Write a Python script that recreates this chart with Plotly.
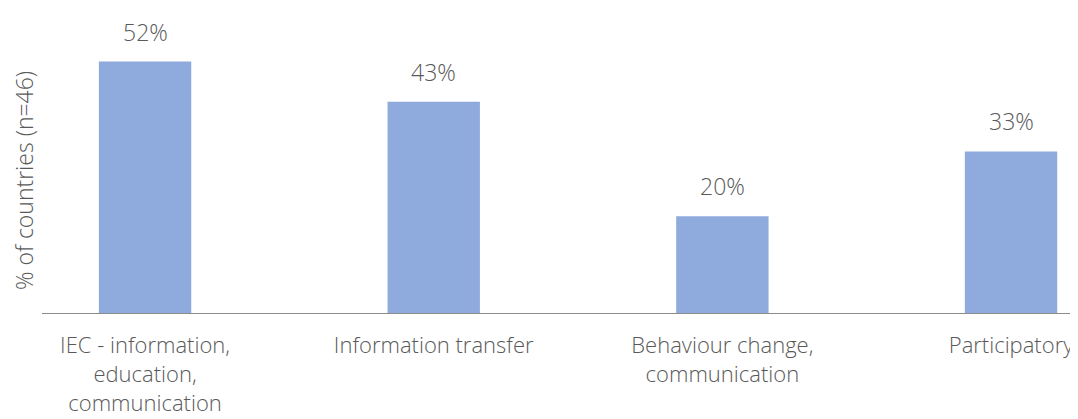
import plotly.graph_objects as go

categories = ["IEC - information,<br>education,<br>communication",
              "Information transfer",
              "Behaviour change,<br>communication",
              "Participatory"]
values = [52, 43.7, 20, 33.4]
value_labels = ["52%", "43%", "20%", "33%"]
y_title = "% of countries (n=46)"

# page has an 8px body margin; figure fills the rest of the window
W, H = 1070, 411
ml, mr, mt, mb = 34, 0, 2, 106
font_family = "Open Sans"
text_color = "#595959"
bar_color = "#8FAADC"

xpos = list(range(len(categories)))

fig = go.Figure()
fig.add_trace(go.Bar(
    x=xpos, y=values, width=0.32,
    marker=dict(color=bar_color, line=dict(width=0)),
    hoverinfo="skip",
))

for xi, v, lab in zip(xpos, values, value_labels):
    fig.add_annotation(x=xi, y=v, xref="x", yref="y", text=lab,
                       showarrow=False, yanchor="bottom", yshift=12,
                       font=dict(family=font_family, size=23, color=text_color, weight=300))

plot_w = W - ml - mr
plot_h = H - mt - mb
fig.add_annotation(xref="paper", yref="paper", x=-18 / plot_w,
                   y=(H - mb - 173) / plot_h, text=y_title, textangle=-90,
                   showarrow=False, xanchor="center", yanchor="middle",
                   font=dict(family=font_family, size=23, color=text_color, weight=300))

px_per_unit = 251.5 / 52
fig.update_layout(
    width=W, height=H,
    margin=dict(l=ml, r=mr, t=mt, b=mb, autoexpand=False),
    paper_bgcolor="white", plot_bgcolor="white",
    showlegend=False,
    font=dict(family=font_family, size=22, color=text_color, weight=300),
    xaxis=dict(
        tickmode="array", tickvals=xpos, ticktext=categories,
        range=[-0.357, 3.232], showgrid=False, zeroline=False,
        showline=True, linecolor="#8c8c8c", linewidth=1,
        ticks="outside", ticklen=13, tickcolor="rgba(0,0,0,0)",
        tickfont=dict(family=font_family, size=22, color=text_color, weight=300),
        fixedrange=True,
    ),
    yaxis=dict(
        range=[0, plot_h / px_per_unit], showgrid=False, zeroline=False,
        showline=False, showticklabels=False, ticks="", fixedrange=True,
    ),
)

fig.write_html("out.html")
